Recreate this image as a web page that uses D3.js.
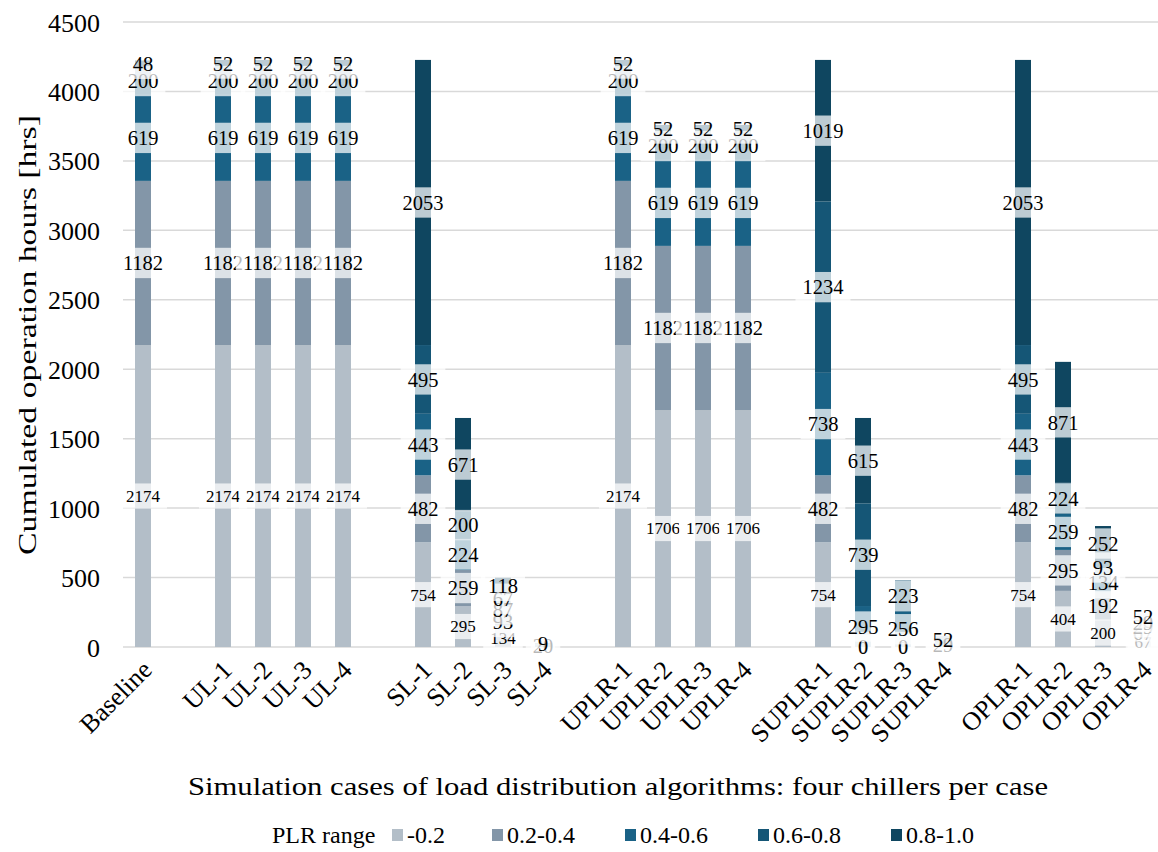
<!DOCTYPE html>
<html>
<head>
<meta charset="utf-8">
<script src="https://cdn.jsdelivr.net/npm/d3@7"></script>
<style>
  html, body { margin: 0; padding: 0; background: #ffffff; }
  svg { display: block; }
</style>
</head>
<body>
<svg id="chart" width="1158" height="852"></svg>
<script>
// ---------------- DATA ----------------
const categories = ["Baseline", "", "UL-1", "UL-2", "UL-3", "UL-4", "",
  "SL-1", "SL-2", "SL-3", "SL-4", "",
  "UPLR-1", "UPLR-2", "UPLR-3", "UPLR-4", "",
  "SUPLR-1", "SUPLR-2", "SUPLR-3", "SUPLR-4", "",
  "OPLR-1", "OPLR-2", "OPLR-3", "OPLR-4"];

const seriesNames = ["-0.2", "0.2-0.4", "0.4-0.6", "0.6-0.8", "0.8-1.0"];

const plr00_02 = [2174, null, 2174, 2174, 2174, 2174, null,
  754, 295, 134, null, null,
  2174, 1706, 1706, 1706, null,
  754, 0, 0, null, null,
  754, 404, 200, 67];
const plr02_04 = [1182, null, 1182, 1182, 1182, 1182, null,
  482, 259, 93, null, null,
  1182, 1182, 1182, 1182, null,
  482, 0, 0, null, null,
  482, 295, 192, 67];
const plr04_06 = [619, null, 619, 619, 619, 619, null,
  443, 224, 87, null, null,
  619, 619, 619, 619, null,
  738, 295, 256, 29, null,
  443, 259, 134, 29];
const plr06_08 = [200, null, 200, 200, 200, 200, null,
  495, 200, 67, 20, null,
  200, 200, 200, 200, null,
  1234, 739, 223, 52, null,
  495, 224, 93, 29];
const plr08_10 = [48, null, 52, 52, 52, 52, null,
  2053, 671, 118, 9, null,
  52, 52, 52, 52, null,
  1019, 615, null, null, null,
  2053, 871, 252, 52];

const yTicks = [0, 500, 1000, 1500, 2000, 2500, 3000, 3500, 4000, 4500];
const seriesColors = ["#b3bec8", "#8396a8", "#1a6286", "#155676", "#0f4660"];

const F = "Liberation Serif";

// ---------------- CHART ----------------
const seriesValues = [plr00_02, plr02_04, plr04_06, plr06_08, plr08_10];
const rows = categories.map((c, i) => {
  const r = { idx: i, name: c };
  seriesNames.forEach((s, k) => { r[s] = seriesValues[k][i] == null ? 0 : seriesValues[k][i]; });
  return r;
});
const stacked = d3.stack().keys(seriesNames)(rows);

const svg = d3.select("#chart");
const x = d3.scaleBand().domain(d3.range(categories.length)).range([123, 1163])
  .paddingInner(0.6).paddingOuter(0.3);
const y = d3.scaleLinear().domain([0, 4500]).range([647, 22]);

function addText(parent, px, py, size, str, anchor, rot, len) {
  const t = parent.append("text")
    .attr("transform", `translate(${px},${py}) rotate(${rot || 0})`)
    .attr("font-family", F).attr("font-size", size)
    .attr("text-anchor", anchor || "start")
    .attr("dy", "0.35em").attr("fill", "#000")
    .text(str);
  if (len) t.attr("textLength", len).attr("lengthAdjust", "spacingAndGlyphs");
  return t;
}

// gridlines
svg.append("g").selectAll("line").data(yTicks).join("line")
  .attr("x1", 123).attr("x2", 1163)
  .attr("y1", d => y(d)).attr("y2", d => y(d))
  .attr("stroke", "#d9d9d9").attr("stroke-width", 1.5);

// y axis tick labels
const yAxis = d3.axisLeft(y).tickValues(yTicks).tickSize(0).tickPadding(0).tickFormat(d3.format("d"));
const gy = svg.append("g").attr("transform", "translate(100,0)").call(yAxis);
gy.select(".domain").remove();
gy.selectAll("text")
  .attr("fill", "#000").attr("font-family", F).attr("font-size", 26)
  .attr("x", 0).attr("dy", "0.35em");

// bars
const layers = svg.append("g").selectAll("g").data(stacked).join("g")
  .attr("fill", (d, i) => seriesColors[i]);
layers.selectAll("rect").data(d => d.filter(p => p[1] - p[0] > 0)).join("rect")
  .attr("x", d => x(d.data.idx))
  .attr("width", x.bandwidth())
  .attr("y", d => y(d[1]))
  .attr("height", d => y(d[0]) - y(d[1]));

// data labels
const labelG = svg.append("g");
stacked.forEach((layer, k) => {
  const fs = k === 0 ? 17 : 20.5;
  layer.forEach((p, i) => {
    const v = seriesValues[k][i];
    if (v == null) return;
    const cx = x(i) + x.bandwidth() / 2;
    const cy = y((p[0] + p[1]) / 2);
    const g = labelG.append("g");
    const t = g.append("text")
      .attr("x", cx).attr("y", cy)
      .attr("text-anchor", "middle")
      .attr("dy", "0.35em")
      .attr("font-family", F)
      .attr("font-size", fs)
      .attr("fill", "#000")
      .text(String(v));
    const w = t.node().getComputedTextLength();
    const bh = fs * 1.48;
    g.insert("rect", "text")
      .attr("x", cx - w / 2 - 7).attr("y", cy - bh / 2)
      .attr("width", w + 14).attr("height", bh)
      .attr("fill", "#ffffff").attr("fill-opacity", 0.72);
  });
});

// x axis labels
const xAxisG = svg.append("g");
categories.forEach((c, i) => {
  if (!c) return;
  const cx = x(i) + x.bandwidth() / 2;
  addText(xAxisG, cx + 4, 665, 26, c, "end", -45);
});

// axis titles
addText(svg, 27, 335, 26, "Cumulated operation hours [hrs]", "middle", -90, 440);
addText(svg, 618, 786, 26, "Simulation cases of load distribution algorithms: four chillers per case", "middle", 0, 860);

// legend
const legend = svg.append("g").attr("transform", "translate(0,835)");
addText(legend, 272, 0, 24, "PLR range", "start", 0);
const legX = [392, 492, 625, 758, 891];
seriesNames.forEach((s, k) => {
  legend.append("rect").attr("x", legX[k]).attr("y", -6).attr("width", 11).attr("height", 12)
    .attr("fill", seriesColors[k]);
  addText(legend, legX[k] + 15, 0, 24, s, "start", 0);
});
</script>
</body>
</html>
